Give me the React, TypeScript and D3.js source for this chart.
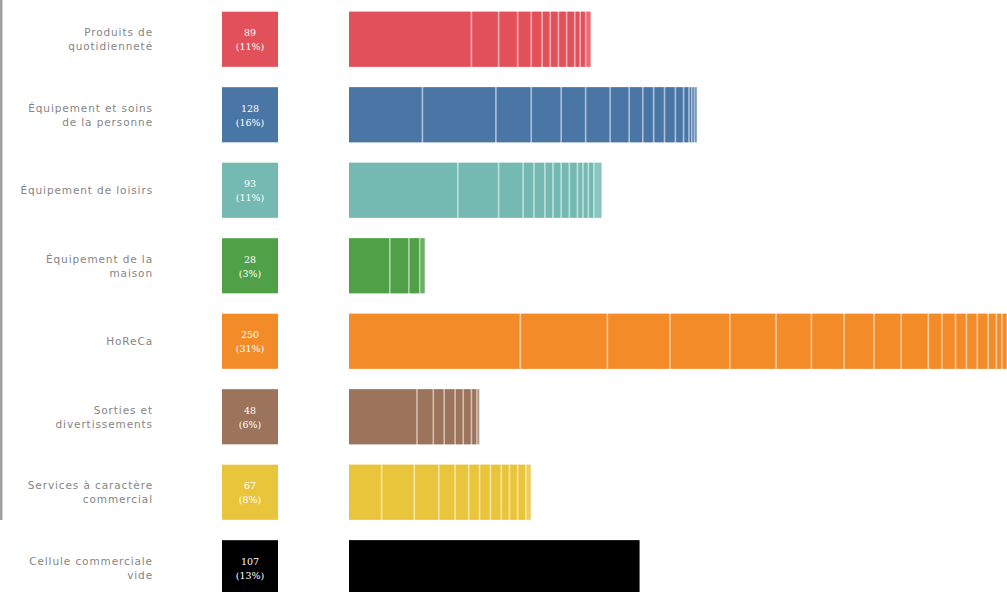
import React, { useEffect, useRef } from 'react'
import * as d3 from 'd3'

// categories (label lines), totals, shares and sub-segment counts
const labels: string[][] = [
  ["Produits de", "quotidienneté"],
  ["Équipement et soins", "de la personne"],
  ["Équipement de loisirs"],
  ["Équipement de la", "maison"],
  ["HoReCa"],
  ["Sorties et", "divertissements"],
  ["Services à caractère", "commercial"],
  ["Cellule commerciale", "vide"],
]
const totals = [89, 128, 93, 28, 250, 48, 67, 107]
const shares = ["11%", "16%", "11%", "3%", "31%", "6%", "8%", "13%"]
const segments: number[][] = [
  [45, 10, 7, 5, 4, 3, 3, 3, 3, 2, 2, 2],
  [27, 27, 13, 11, 9, 9, 7, 5, 4, 4, 4, 3, 2, 1, 1, 1],
  [40, 15, 9, 4, 4, 3, 3, 3, 3, 2, 2, 2, 3],
  [15, 7, 4, 2],
  [63, 32, 23, 22, 17, 13, 12, 11, 10, 10, 5, 5, 4, 4, 4, 3, 2, 2, 2, 2, 1, 1, 1, 1],
  [25, 6, 4, 4, 3, 3, 2, 1],
  [12, 12, 9, 6, 5, 4, 4, 4, 3, 3, 3, 2],
  [107],
]
const colors = ["#e2505a", "#4a76a6", "#74bab2", "#50a048", "#f28b28", "#9c735b", "#e9c53c", "#000000"]

const W = 1007
const H = 592

const Chart = () => {
  const ref = useRef<SVGSVGElement>(null)

  useEffect(() => {
    const svg = d3.select(ref.current)
    svg.selectAll("*").remove()

    const idx = totals.map((_, i) => i)
    const y = d3.scaleBand<number>()
      .domain(idx)
      .range([1.5, 605.5])
      .paddingInner(0.27)
      .paddingOuter(0.135)
    const x = d3.scaleLinear().domain([0, 250]).range([349, 1029])

    // left edge strip
    svg.append("rect")
      .attr("x", 0).attr("y", 0).attr("width", 2.5).attr("height", 520)
      .attr("fill", "#a0a0a0")

    const rows = svg.selectAll("g.row")
      .data(idx)
      .enter()
      .append("g")
      .attr("class", "row")
      .attr("transform", d => `translate(0, ${y(d)})`)

    const bw = y.bandwidth()

    // category labels
    rows.append("text")
      .attr("text-anchor", "end")
      .attr("font-family", "'DejaVu Sans', sans-serif")
      .attr("font-size", 10.5)
      .attr("letter-spacing", 0.9)
      .attr("fill", "#858585")
      .selectAll("tspan")
      .data(d => labels[d].map(l => ({ l, n: labels[d].length })))
      .enter()
      .append("tspan")
      .attr("x", 153)
      .attr("y", (t, i) => bw / 2 + 4 + (t.n === 1 ? 0 : (i === 0 ? -7 : 7)))
      .text(t => t.l)

    // count boxes
    rows.append("rect")
      .attr("x", 222).attr("y", 0)
      .attr("width", 56).attr("height", bw)
      .attr("fill", d => colors[d])
    rows.append("text")
      .attr("x", 250).attr("y", bw / 2 - 3)
      .attr("text-anchor", "middle")
      .attr("font-family", "'DejaVu Serif', serif")
      .attr("font-size", 9.5)
      .attr("fill", "#fff")
      .text(d => totals[d])
    rows.append("text")
      .attr("x", 250).attr("y", bw / 2 + 11)
      .attr("text-anchor", "middle")
      .attr("font-family", "'DejaVu Serif', serif")
      .attr("font-size", 9.5)
      .attr("fill", "#fff")
      .text(d => `(${shares[d]})`)

    // segmented bars
    rows.append("rect")
      .attr("x", x(0)).attr("y", 0)
      .attr("width", d => x(totals[d]) - x(0)).attr("height", bw)
      .attr("fill", d => d3.interpolateRgb(colors[d], "#fff")(0.55))
    rows.each(function (d) {
      const segs = segments[d]
      const starts = d3.cumsum([0, ...segs])
      d3.select(this).selectAll("rect.seg")
        .data(segs)
        .enter()
        .append("rect")
        .attr("class", "seg")
        .attr("x", (v, i) => x(starts[i]) + (i === 0 ? 0 : 0.8))
        .attr("y", 0)
        .attr("width", (v, i) => Math.max(0.5, x(starts[i] + v) - x(starts[i]) - (i === 0 ? 0.8 : 1.6)))
        .attr("height", bw)
        .attr("fill", colors[d])
        .attr("opacity", (v, i) => segs.length > 1 && i === segs.length - 1 ? 0.7 : 1)
    })
  }, [])

  return <svg ref={ref} width={W} height={H} style={{ position: "absolute", left: 0, top: 0, background: "#fff" }} />
}

export default function App() {
  return <Chart />
}
